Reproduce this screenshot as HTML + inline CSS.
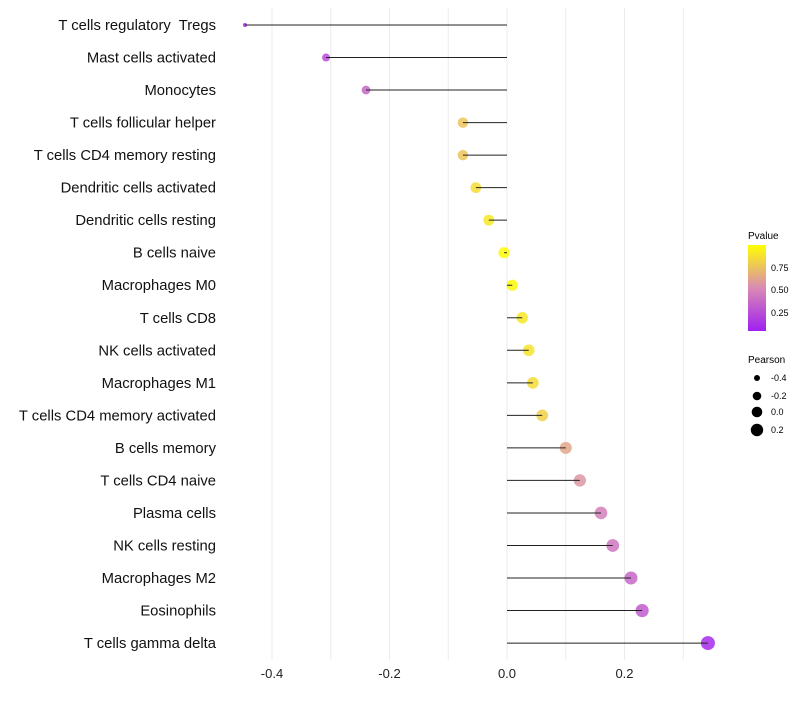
<!DOCTYPE html>
<html><head><meta charset="utf-8"><style>
body{margin:0;background:#fff;font-family:"Liberation Sans",sans-serif}
svg text{font-family:"Liberation Sans",sans-serif;white-space:pre}
</style></head><body>
<svg id="chart" width="800" height="700" xmlns="http://www.w3.org/2000/svg">
<defs><linearGradient id="pg" x1="0" y1="1" x2="0" y2="0">
<stop offset="0" stop-color="#A020F0"/><stop offset="0.5" stop-color="#D98AB4"/><stop offset="1" stop-color="#FFFF00"/></linearGradient></defs>
<g id="grid"></g>
<g id="dots"></g>
<g id="marks"></g>
<g id="ylab"></g>
<g id="xlab"></g>
<g>
<text x="748" y="239" font-size="10">Pvalue</text>
<rect x="748" y="245" width="18" height="86" fill="url(#pg)"/>
<text x="771" y="271" font-size="9">0.75</text>
<text x="771" y="293" font-size="9">0.50</text>
<text x="771" y="316" font-size="9">0.25</text>
</g>
<g>
<text x="748" y="363" font-size="10">Pearson</text>
<circle cx="757" cy="378" r="3"/><text x="771" y="381" font-size="9">-0.4</text>
<circle cx="757" cy="396" r="4.3"/><text x="771" y="399" font-size="9">-0.2</text>
<circle cx="757" cy="412" r="5.3"/><text x="771" y="415" font-size="9">0.0</text>
<circle cx="757" cy="430" r="6.2"/><text x="771" y="433" font-size="9">0.2</text>
</g>
</svg>
<script>
const categories=["T cells regulatory  Tregs","Mast cells activated","Monocytes","T cells follicular helper","T cells CD4 memory resting","Dendritic cells activated","Dendritic cells resting","B cells naive","Macrophages M0","T cells CD8","NK cells activated","Macrophages M1","T cells CD4 memory activated","B cells memory","T cells CD4 naive","Plasma cells","NK cells resting","Macrophages M2","Eosinophils","T cells gamma delta"];
const pearson=[-0.446,-0.308,-0.240,-0.075,-0.075,-0.053,-0.031,-0.005,0.009,0.026,0.037,0.044,0.060,0.100,0.124,0.160,0.180,0.211,0.230,0.342];
const pvalue=[0.02,0.2,0.33,0.75,0.75,0.85,0.9,0.98,0.97,0.9,0.88,0.85,0.8,0.62,0.55,0.45,0.4,0.33,0.28,0.05];
const xTicks=[-0.4,-0.2,0.0,0.2];
const xMinor=[-0.3,-0.1,0.1,0.3];
const NS="http://www.w3.org/2000/svg";
const X=v=>507+v*587.5;
const Y=i=>25+i*32.53;
function mk(t,a,p){const e=document.createElementNS(NS,t);for(const k in a)e.setAttribute(k,a[k]);p.appendChild(e);return e;}
function lerp(a,b,t){return a.map((v,i)=>Math.round(v+(b[i]-v)*t));}
function col(p){const c0=[160,32,240],c1=[217,138,180],c2=[255,255,0];const c=p<0.5?lerp(c0,c1,p/0.5):lerp(c1,c2,(p-0.5)/0.5);return `rgb(${c})`;}
const rad=v=>{const a=16+(v+0.308)*50.8;return a<12?2:Math.sqrt(a);};
const grid=document.getElementById('grid'),marks=document.getElementById('marks'),dots=document.getElementById('dots'),yl=document.getElementById('ylab'),xl=document.getElementById('xlab');
xMinor.concat(xTicks).forEach(v=>{const l=mk('line',{x1:X(v),x2:X(v),y1:8,y2:660,stroke:'#ebebeb','stroke-width':1},grid);

});
xTicks.forEach(v=>{const t=mk('text',{x:X(v),y:678,'font-size':13,'text-anchor':'middle',fill:'#222'},xl);t.textContent=v.toFixed(1);

});
categories.forEach((c,i)=>{
const t=mk('text',{x:216,y:Y(i)+5,'font-size':14.8,'text-anchor':'end',fill:'#111'},yl);t.textContent=c;


const d=mk('circle',{cx:X(pearson[i]),cy:Y(i),r:rad(pearson[i]),fill:col(pvalue[i]),'fill-opacity':0.85},dots);


const l=mk('line',{x1:X(0),x2:X(pearson[i]),y1:Y(i),y2:Y(i),stroke:'#222','stroke-width':1},marks);


});
</script>
</body></html>
